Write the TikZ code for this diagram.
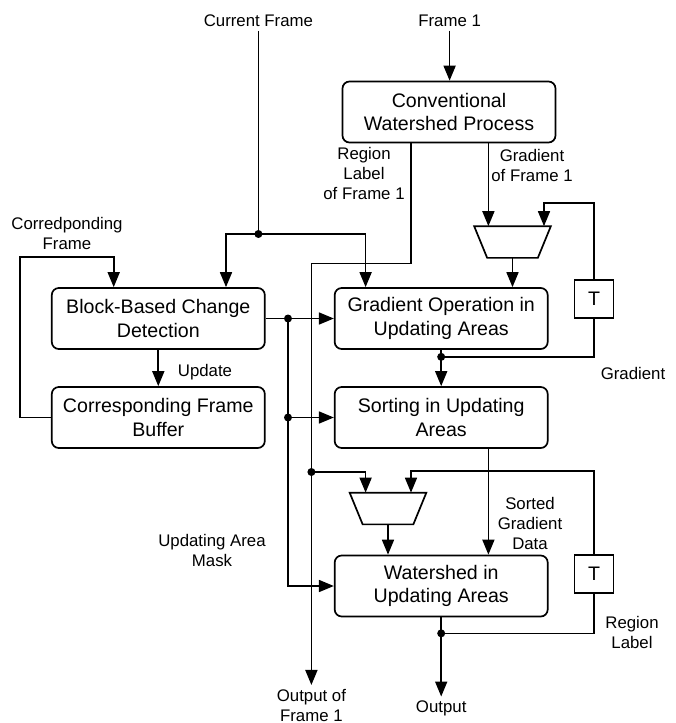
\documentclass[tikz,border=0pt]{standalone}
\usepackage{fontspec}
\setmainfont{Liberation Sans}
\usepackage{tikz}
\usetikzlibrary{arrows.meta,positioning}

\begin{document}
\begin{tikzpicture}[x=1pt, y=-1pt, line width=1.7pt, >={Triangle[length=15pt,width=12pt]},
  box/.style={draw, rounded corners=7pt, minimum width=213pt, minimum height=61pt, inner sep=2pt, align=center, font={\fontsize{19.6}{23.5}\selectfont}},
  tbox/.style={draw, minimum width=39pt, minimum height=38pt, inner sep=0pt, font={\fontsize{19.6}{23.5}\selectfont}},
  mux/.style={minimum width=75pt, minimum height=30pt, inner sep=0pt},
  lbl/.style={align=center, inner sep=3pt, font={\fontsize{16.8}{20}\selectfont}}]
\useasboundingbox (0,0) rectangle (676,723);
\node[box] (conv) at (449,112) {Conventional\\Watershed Process};
\node[box] (block) at (158.3,318.5) {Block-Based Change\\Detection};
\node[box] (buffer) at (158.3,417.5) {Corresponding Frame\\Buffer};
\node[box] (gradop) at (441.2,318.5) {Gradient Operation in\\Updating Areas};
\node[box] (sort) at (441.2,417.5) {Sorting in Updating\\Areas};
\node[box] (water) at (441.2,586) {Watershed in\\Updating Areas};
\node[tbox] (t1) at (594,299) {T};
\node[tbox] (t2) at (594,574) {T};
\node[mux] (mux1) at (512.5,242) {};
\node[mux] (mux2) at (388,508.5) {};
\foreach \m in {mux1,mux2} \draw (\m.north west) -- (\m.north east) -- ([xshift=-13pt]\m.south east) -- ([xshift=13pt]\m.south west) -- cycle;
\node[lbl] (cur) at (258.4,21) {Current Frame};
\node[lbl] (f1) at (449.6,21) {Frame 1};
\node[lbl] (rl1) at (364,173) {Region\\Label\\of Frame 1};
\node[lbl] (gf1) at (532,165) {Gradient\\of Frame 1};
\node[lbl] (cf) at (67,233) {Corredponding\\Frame};
\node[lbl] (upd) at (205,372) {Update};
\node[lbl] (grad) at (633,373) {Gradient};
\node[lbl] (sgd) at (530,523) {Sorted\\Gradient\\Data};
\node[lbl] (mask) at (212,550) {Updating Area\\Mask};
\node[lbl] (rl) at (632,632) {Region\\Label};
\node[lbl] (out1) at (311.4,705) {Output of\\Frame 1};
\node[lbl] (out) at (441.2,708) {Output};
\coordinate (dotA) at (258.4,234);
\coordinate (dotB) at ([yshift=-7pt]gradop.south);
\coordinate (dotC) at (311.4,472);
\coordinate (dotD) at (288,318.5);
\coordinate (dotE) at (288,417.5);
\coordinate (dotF) at ([yshift=-16pt]water.south);
\draw (cur.south) -- (dotA);
\draw[->] (dotA) -| ([xshift=67.7pt]block.north); \draw[->] (dotA) -| ([xshift=-75.6pt]gradop.north);
\draw[->] (f1.south) -- (f1.south |- conv.north);
\draw[->] ([xshift=-38pt]conv.south) -- ++(0,120) -| (out1.north);
\draw[->] ([xshift=39.4pt]conv.south) -- ([xshift=39.4pt]conv.south |- mux1.north);
\draw[->] (mux1.south) -- (mux1.south |- gradop.north);
\draw[->] (t1.north) -- ++(0,-76) -| ([xshift=31.5pt]mux1.north);
\draw (t1.south) |- (dotB);
\draw[->] (gradop) -- (sort);
\draw[->] (block) -- (gradop); \draw[->] (dotD) |- (water.west); \draw[->] (dotE) -- (sort.west);
\draw[->] (block) -- (buffer);
\draw[->] (buffer.west) -- ++(-31,0) -- ++(0,-160.5) -| ([xshift=-44.6pt]block.north);
\draw[->] (dotC) -| ([xshift=-22.4pt]mux2.north);
\draw[->] (t2.north) -- ++(0,-83) -| ([xshift=23pt]mux2.north);
\draw (t2.south) |- (dotF);
\draw[->] (water.south) -- (out.north);
\draw[->] (mux2.south) -- (mux2.south |- water.north);
\draw[->] ([xshift=47.2pt]sort.south) -- ([xshift=47.2pt]water.north);
\foreach \d in {dotA,dotB,dotC,dotD,dotE,dotF} \fill (\d) circle (4pt);
\end{tikzpicture}
\end{document}
